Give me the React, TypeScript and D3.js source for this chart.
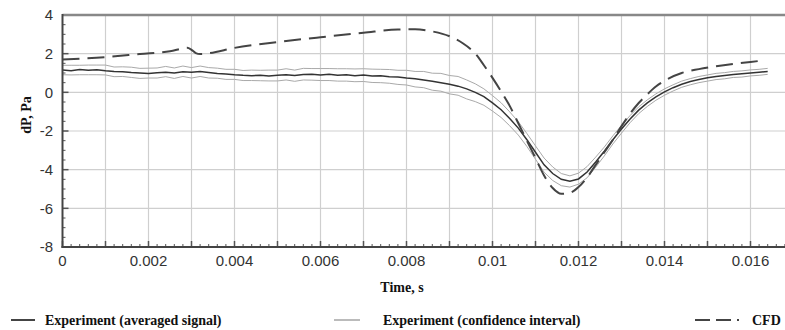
import React from "react";
import * as d3 from "d3";

// ---- Data ----
const SAMPLE_STEP = 0.0002; // sampling of the experiment curves (s)

const EXP_AVERAGED = [
  1.15, 1.12, 1.18, 1.14, 1.17, 1.12, 1.08, 1.06, 1.02, 1.0,
  0.98, 1.01, 1.04, 1.0, 1.07, 1.04, 1.08, 1.03, 0.98, 0.95,
  0.91, 0.88, 0.86, 0.88, 0.85, 0.88, 0.91, 0.87, 0.92, 0.94,
  0.9, 0.93, 0.88, 0.91, 0.86, 0.9, 0.84, 0.86, 0.81, 0.79,
  0.74, 0.7, 0.64, 0.57, 0.5, 0.42, 0.32, 0.18, 0.0, -0.22,
  -0.55, -0.9, -1.35, -1.85, -2.45, -3.1, -3.75, -4.2, -4.5, -4.6,
  -4.48, -4.12, -3.6, -3.05, -2.45, -1.9, -1.38, -0.92, -0.55, -0.24,
  0.02, 0.24, 0.42, 0.56, 0.66, 0.75, 0.82, 0.87, 0.92, 0.96,
  1.0, 1.04, 1.08,
];

// half-width of the confidence interval above / below the averaged signal
const CI_ABOVE = [
  0.25, 0.28, 0.22, 0.27, 0.24, 0.29, 0.23, 0.26, 0.28, 0.24,
  0.27, 0.25, 0.3, 0.26, 0.29, 0.24, 0.28, 0.25, 0.27, 0.24,
  0.28, 0.25, 0.29, 0.26, 0.3, 0.27, 0.31, 0.28, 0.32, 0.29,
  0.33, 0.3, 0.34, 0.31, 0.35, 0.32, 0.36, 0.33, 0.37, 0.35,
  0.4, 0.38, 0.44, 0.42, 0.48, 0.45, 0.5, 0.46, 0.44, 0.4,
  0.38, 0.36, 0.34, 0.33, 0.32, 0.33, 0.35, 0.34, 0.3, 0.28,
  0.3, 0.28, 0.25, 0.22, 0.2, 0.19, 0.18, 0.17, 0.16, 0.16,
  0.16, 0.15, 0.16, 0.15, 0.16, 0.15, 0.16, 0.15, 0.16, 0.15,
  0.16, 0.15, 0.16,
];
const CI_BELOW = [
  0.24, 0.22, 0.27, 0.23, 0.26, 0.22, 0.27, 0.24, 0.25, 0.28,
  0.24, 0.27, 0.23, 0.28, 0.25, 0.3, 0.26, 0.29, 0.25, 0.28,
  0.24, 0.27, 0.25, 0.28, 0.26, 0.29, 0.27, 0.3, 0.28, 0.31,
  0.29, 0.32, 0.3, 0.33, 0.31, 0.34, 0.33, 0.36, 0.34, 0.38,
  0.36, 0.42, 0.4, 0.46, 0.44, 0.5, 0.47, 0.52, 0.48, 0.45,
  0.42, 0.4, 0.38, 0.36, 0.35, 0.36, 0.38, 0.36, 0.33, 0.3,
  0.27, 0.3, 0.27, 0.24, 0.22, 0.21, 0.19, 0.18, 0.18, 0.17,
  0.17, 0.17, 0.16, 0.17, 0.16, 0.17, 0.16, 0.17, 0.15, 0.17,
  0.15, 0.16, 0.15,
];

const CFD_TIME = [
  0, 0.001, 0.0018, 0.0025, 0.0029, 0.003, 0.0031, 0.0032, 0.0034, 0.004,
  0.005, 0.006, 0.007, 0.0078, 0.0082, 0.0086, 0.009, 0.0093, 0.0096, 0.0098,
  0.01, 0.0102, 0.0104, 0.0106, 0.0108, 0.011, 0.0112, 0.0114, 0.0116, 0.0118,
  0.012, 0.0122, 0.0124, 0.0126, 0.0128, 0.013, 0.0132, 0.0134, 0.0136, 0.0138,
  0.014, 0.0144, 0.0148, 0.0152, 0.0156, 0.016, 0.0163,
];
const CFD_VALUES = [
  1.7, 1.82, 1.98, 2.12, 2.3, 2.2, 2.03, 1.98, 2.02, 2.3,
  2.6, 2.85, 3.08, 3.25, 3.26, 3.15, 2.9, 2.55, 2.0, 1.4,
  0.75, 0.05, -0.7, -1.6, -2.5, -3.4, -4.3, -4.95, -5.25, -5.2,
  -4.9, -4.4, -3.75, -3.1, -2.45, -1.75, -1.1, -0.55, -0.1, 0.3,
  0.6, 1.0, 1.2, 1.35, 1.47, 1.57, 1.65,
];

const Y_TICKS = [-8, -6, -4, -2, 0, 2, 4];
const X_TICKS = [0, 0.002, 0.004, 0.006, 0.008, 0.01, 0.012, 0.014, 0.016];
const X_TICK_LABELS = ["0", "0.002", "0.004", "0.006", "0.008", "0.01", "0.012", "0.014", "0.016"];

const Y_LABEL = "dP, Pa";
const X_LABEL = "Time, s";
const LEGEND = [
  "Experiment (averaged signal)",
  "Experiment (confidence interval)",
  "CFD",
];

// ---- Layout ----
const W = 785;
const H = 330;
const LEFT = 62.5;
const TOP = 15;
const BOTTOM = 247;
const PX_PER_MS = 43;

export default function App() {
  const x = d3.scaleLinear().domain([0, 0.017]).range([LEFT, LEFT + 17 * PX_PER_MS]);
  const y = d3.scaleLinear().domain([-8, 4]).range([BOTTOM, TOP]);
  const right = W;

  const expPts = EXP_AVERAGED.map((v, i) => ({ t: i * SAMPLE_STEP, v }));
  const upper = EXP_AVERAGED.map((v, i) => ({ t: i * SAMPLE_STEP, v: v + CI_ABOVE[i] }));
  const lower = EXP_AVERAGED.map((v, i) => ({ t: i * SAMPLE_STEP, v: v - CI_BELOW[i] }));
  const cfd = CFD_TIME.map((t, i) => ({ t, v: CFD_VALUES[i] }));

  const line = d3
    .line<{ t: number; v: number }>()
    .x((d) => x(d.t))
    .y((d) => y(d.v));
  const smooth = d3
    .line<{ t: number; v: number }>()
    .x((d) => x(d.t))
    .y((d) => y(d.v))
    .curve(d3.curveMonotoneX);

  const vGrid = d3.range(1, 18).map((i) => i * 0.001).filter((t) => x(t) < right);
  const hGrid = [-6, -4, -2, 0, 2];
  const xMinor = d3.range(0, 86).map((i) => i * 0.0002).filter((t) => x(t) < right);
  const yMinor = d3.range(0, 25).map((i) => -8 + i * 0.5);

  const sans = "'Liberation Sans', Arial, sans-serif";
  const serif = "'Liberation Serif', 'Times New Roman', serif";

  return (
    <svg
      width={W}
      height={H}
      style={{ position: "absolute", left: 0, top: 0, background: "#fff" }}
    >
      <rect x={0} y={0} width={W} height={H} fill="#fff" />
      {/* grid */}
      {vGrid.map((t) => (
        <line key={"vg" + t} x1={x(t)} x2={x(t)} y1={TOP} y2={BOTTOM} stroke="#cfcfcf" strokeWidth={1.2} />
      ))}
      {hGrid.map((v) => (
        <line key={"hg" + v} x1={LEFT} x2={right} y1={y(v)} y2={y(v)} stroke="#cfcfcf" strokeWidth={1.2} />
      ))}

      {/* minor / major ticks */}
      {xMinor.map((t, i) => (
        <line
          key={"xt" + i}
          x1={x(t)}
          x2={x(t)}
          y1={BOTTOM}
          y2={BOTTOM - (i % 5 === 0 ? 6 : 3)}
          stroke="#555"
          strokeWidth={i % 5 === 0 ? 1.5 : 1}
        />
      ))}
      {yMinor.map((v, i) => (
        <line
          key={"yt" + i}
          x1={LEFT}
          x2={LEFT + (i % 4 === 0 ? 6 : 3)}
          y1={y(v)}
          y2={y(v)}
          stroke="#555"
          strokeWidth={i % 4 === 0 ? 1.5 : 1}
        />
      ))}

      {/* series */}
      <path d={line(upper) || ""} fill="none" stroke="#a9a9a9" strokeWidth={1} />
      <path d={line(lower) || ""} fill="none" stroke="#a9a9a9" strokeWidth={1} />
      <path d={line(expPts) || ""} fill="none" stroke="#333" strokeWidth={1.5} />
      <path
        d={smooth(cfd) || ""}
        fill="none"
        stroke="#444"
        strokeWidth={2}
        strokeDasharray="17 8"
      />

      {/* axes frame */}
      <line x1={LEFT} x2={right} y1={TOP} y2={TOP} stroke="#888" strokeWidth={2.5} />
      <line x1={LEFT} x2={LEFT} y1={TOP - 1} y2={BOTTOM + 1} stroke="#444" strokeWidth={2} />
      <line x1={LEFT - 1} x2={right} y1={BOTTOM} y2={BOTTOM} stroke="#444" strokeWidth={2} />

      {/* tick labels */}
      {Y_TICKS.map((v) => (
        <text
          key={"yl" + v}
          x={53}
          y={y(v)}
          dy="0.35em"
          textAnchor="end"
          fontFamily={sans}
          fontSize={15}
          fill="#333"
        >
          {v}
        </text>
      ))}
      {X_TICKS.map((t, i) => (
        <text
          key={"xl" + t}
          x={x(t)}
          y={266}
          textAnchor="middle"
          fontFamily={sans}
          fontSize={15}
          fill="#333"
        >
          {X_TICK_LABELS[i]}
        </text>
      ))}

      {/* axis titles */}
      <text
        transform={`translate(31,115) rotate(-90)`}
        textAnchor="middle"
        fontFamily={serif}
        fontWeight="bold"
        fontSize={14}
        fill="#111"
      >
        {Y_LABEL}
      </text>
      <text x={402} y={292} textAnchor="middle" fontFamily={serif} fontWeight="bold" fontSize={14} fill="#111">
        {X_LABEL}
      </text>

      {/* legend */}
      <line x1={11} x2={35} y1={320} y2={320} stroke="#444" strokeWidth={2} />
      <text x={45} y={325} fontFamily={serif} fontWeight="bold" fontSize={14} fill="#111">
        {LEGEND[0]}
      </text>
      <line x1={334} x2={360} y1={320} y2={320} stroke="#bbb" strokeWidth={2} />
      <text x={383} y={325} fontFamily={serif} fontWeight="bold" fontSize={14} fill="#111">
        {LEGEND[1]}
      </text>
      <line x1={695} x2={742} y1={320} y2={320} stroke="#444" strokeWidth={2} strokeDasharray="15 6 15 6 2 6" />
      <text x={752} y={325} fontFamily={serif} fontWeight="bold" fontSize={14} fill="#111">
        {LEGEND[2]}
      </text>
    </svg>
  );
}
